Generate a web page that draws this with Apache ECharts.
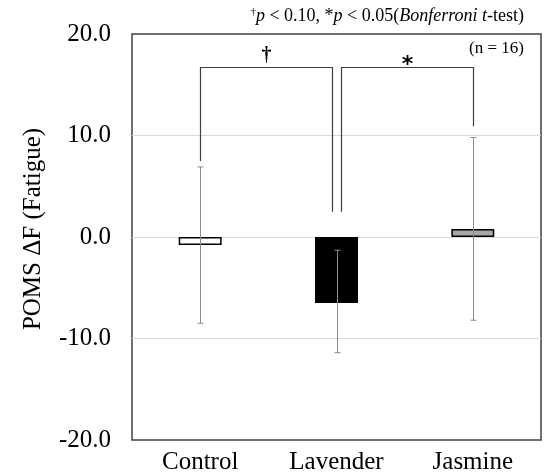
<!DOCTYPE html>
<html lang="en">
<head>
    <meta charset="UTF-8">
    <title>POMS Fatigue</title>
    <script src="https://cdn.jsdelivr.net/npm/echarts@6/dist/echarts.min.js"></script>
    <style>
        *{ margin: 0; }
        #chart{ width: 545px; height: 475px; background: #fff; }
    </style>
</head>
<body>
<div id="chart"></div>
<script>
    // data
    const groups = ['Control', 'Lavender', 'Jasmine'];
    const means = [-0.8, -6.5, 0.8];
    const errLow = [-8.5, -11.4, -8.2];
    const errHigh = [6.9, -1.3, 9.8];
    const yTicks = [-20, -10, 0, 10, 20];

    // significance brackets: from group, to group, top, left leg end, right leg end
    const bracketFrom = [0, 1];
    const bracketTo = [1, 2];
    const bracketTop = [16.7, 16.7];
    const bracketLeftEnd = [7.5, 2.5];
    const bracketRightEnd = [2.5, 10.9];
    const bracketMarks = ['†', '*'];

    const serif = 'Liberation Serif';
    const fills = ['#ffffff', '#000000', '#a6a6a6'];

    let chart = echarts.init(document.getElementById('chart'));

    const barData = means.map((v, i) => ({
        value: v,
        itemStyle: { color: fills[i], borderColor: '#000', borderWidth: 1.5 }
    }));
    const errData = groups.map((g, i) => [i, errLow[i], errHigh[i]]);
    const bracketData = bracketFrom.map((f, i) =>
        [f, bracketTo[i], bracketTop[i], bracketLeftEnd[i], bracketRightEnd[i]]);

    chart.setOption({
        animation: false,
        title: [
            {
                text: '{sup|†}{i|p} < 0.10, *{i|p} < 0.05({i|Bonferroni t}-test)',
                right: 16,
                top: 2,
                textStyle: {
                    fontFamily: serif, fontSize: 18, fontWeight: 'normal', color: '#000',
                    rich: {
                        sup: { fontFamily: serif, fontSize: 11, verticalAlign: 'top', color: '#000' },
                        i: { fontFamily: serif, fontSize: 18, fontStyle: 'italic', color: '#000' }
                    }
                }
            },
            {
                text: '(n = 16)',
                right: 16,
                top: 35,
                textStyle: { fontFamily: serif, fontSize: 17, fontWeight: 'normal', color: '#000' }
            }
        ],
        grid: {
            left: 132, right: 4, top: 34, bottom: 34,
            show: true, borderColor: '#404040', borderWidth: 1.5
        },
        xAxis: {
            type: 'category',
            data: groups,
            axisLine: { show: false },
            axisTick: { show: false },
            axisLabel: { fontFamily: serif, fontSize: 25, color: '#000', margin: 10 }
        },
        yAxis: {
            type: 'value',
            min: yTicks[0],
            max: yTicks[yTicks.length - 1],
            interval: 10,
            name: 'POMS ΔF (Fatigue)',
            nameLocation: 'middle',
            nameGap: 86,
            nameTextStyle: { fontFamily: serif, fontSize: 25, color: '#000', padding: [0, 0, 0, 16] },
            axisLine: { show: false },
            axisTick: { show: false },
            axisLabel: {
                fontFamily: serif, fontSize: 25, color: '#000', margin: 21,
                formatter: v => v.toFixed(1)
            },
            splitLine: {
                show: true, showMinLine: false, showMaxLine: false,
                lineStyle: { color: '#d9d9d9', width: 1 }
            }
        },
        series: [
            {
                type: 'bar',
                data: barData,
                barWidth: '31.5%',
                z: 2
            },
            {
                type: 'custom',
                data: errData,
                encode: { x: 0, y: [1, 2] },
                z: 3,
                renderItem: function (params, api) {
                    const lo = api.coord([api.value(0), api.value(1)]);
                    const hi = api.coord([api.value(0), api.value(2)]);
                    const x = Math.round(lo[0]) + 0.5;
                    const cap = 3;
                    const st = { stroke: '#8c8c8c', lineWidth: 1 };
                    return {
                        type: 'group',
                        children: [
                            { type: 'line', shape: { x1: x, y1: lo[1], x2: x, y2: hi[1] }, style: st },
                            { type: 'line', shape: { x1: x - cap, y1: lo[1], x2: x + cap, y2: lo[1] }, style: st },
                            { type: 'line', shape: { x1: x - cap, y1: hi[1], x2: x + cap, y2: hi[1] }, style: st }
                        ]
                    };
                }
            },
            {
                type: 'custom',
                data: bracketData,
                encode: { x: [0, 1], y: [2, 3, 4] },
                z: 4,
                renderItem: function (params, api) {
                    const i = params.dataIndex;
                    const from = api.value(0), to = api.value(1);
                    // legs on a group shared by two brackets are pulled apart
                    const shared = c => bracketFrom.filter(v => v === c).length + bracketTo.filter(v => v === c).length > 1;
                    const lOff = shared(from) ? 4.5 : 0;
                    const rOff = shared(to) ? -4.5 : 0;
                    const tl = api.coord([from, api.value(2)]);
                    const tr = api.coord([to, api.value(2)]);
                    const bl = api.coord([from, api.value(3)]);
                    const br = api.coord([to, api.value(4)]);
                    const xl = Math.round(tl[0] + lOff) + 0.5;
                    const xr = Math.round(tr[0] + rOff) + 0.5;
                    const yt = Math.round(tl[1]) + 0.5;
                    const mark = bracketMarks[i];
                    const isStar = mark === '*';
                    return {
                        type: 'group',
                        children: [
                            {
                                type: 'polyline',
                                shape: { points: [[xl, bl[1]], [xl, yt], [xr, yt], [xr, br[1]]] },
                                style: { stroke: '#404040', lineWidth: 1.2, fill: null }
                            },
                            {
                                type: 'text',
                                style: {
                                    text: mark,
                                    x: (xl + xr) / 2,
                                    y: isStar ? yt - 2 : yt - 12,
                                    align: 'center',
                                    verticalAlign: 'middle',
                                    font: isStar ? 'bold 22px DejaVu Sans' : 'bold 20px Liberation Serif',
                                    fill: '#000'
                                }
                            }
                        ]
                    };
                }
            }
        ]
    });
</script>
</body>
</html>
